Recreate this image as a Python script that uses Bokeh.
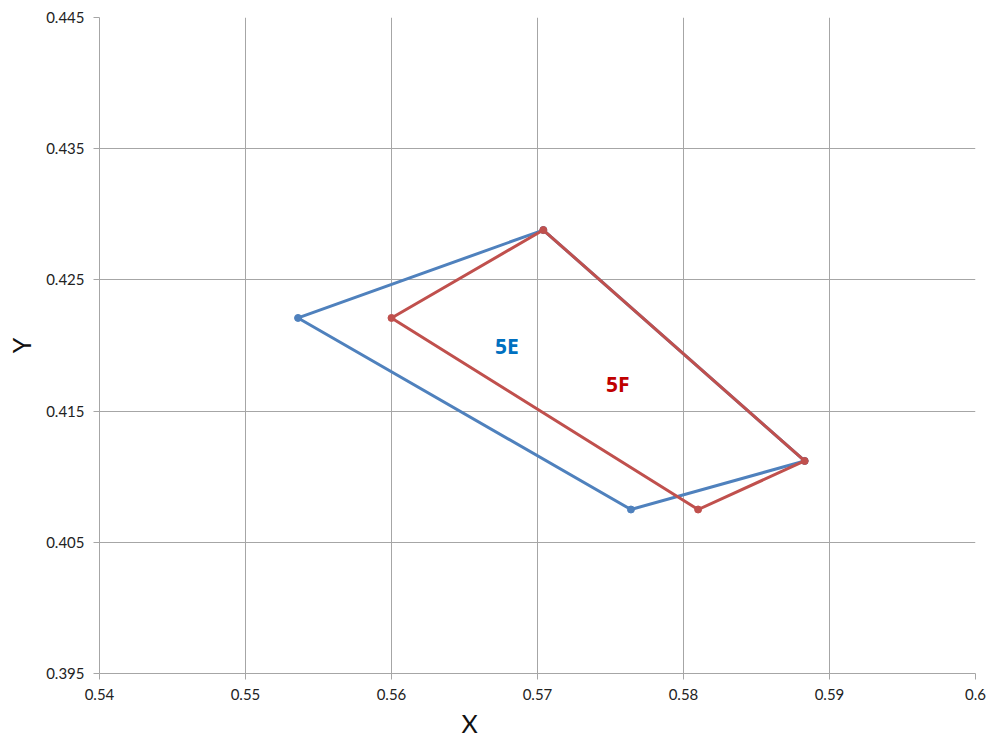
from bokeh.plotting import figure
from bokeh.models import FixedTicker, Range1d, ColumnDataSource, Title
from bokeh.embed import file_html
from bokeh.resources import INLINE
from bokeh.core.properties import value

# Data
x_5e = [0.5536, 0.5704, 0.5883, 0.5764, 0.5536]
y_5e = [0.4221, 0.4288, 0.4112, 0.4075, 0.4221]
x_5f = [0.5600, 0.5704, 0.5883, 0.5810, 0.5600]
y_5f = [0.4221, 0.4288, 0.4112, 0.4075, 0.4221]
label_names = ["5E", "5F"]
label_x = [0.5679, 0.5755]
label_y = [0.4200, 0.4171]
x_ticks = [0.54, 0.55, 0.56, 0.57, 0.58, 0.59, 0.60]
y_ticks = [0.395, 0.405, 0.415, 0.425, 0.435, 0.445]
x_tick_labels = {0.54: "0.54", 0.55: "0.55", 0.56: "0.56", 0.57: "0.57", 0.58: "0.58", 0.59: "0.59", 0.60: "0.6"}
x_title = "X"
y_title = "Y"

FONT = "Lato"
GRID = "#a6a6a6"

p = figure(width=991, height=742, output_backend="svg", toolbar_location=None,
           x_range=Range1d(0.54, 0.60), y_range=Range1d(0.395, 0.445),
           min_border_left=99, min_border_right=16, min_border_top=17, min_border_bottom=69)
p.outline_line_color = None
p.background_fill_color = "white"

p.xaxis.ticker = FixedTicker(ticks=x_ticks)
p.yaxis.ticker = FixedTicker(ticks=y_ticks)
p.xaxis.major_label_overrides = x_tick_labels
p.yaxis.major_label_overrides = {t: f"{t:.3f}" for t in y_ticks}

for ax in (p.xaxis, p.yaxis):
    ax.axis_line_color = GRID
    ax.major_tick_line_color = GRID
    ax.minor_tick_line_color = None
    ax.major_tick_out = 6
    ax.major_tick_in = 0
    ax.major_label_text_font = FONT
    ax.major_label_text_font_size = "15px"
    ax.major_label_text_color = "#222222"
    ax.major_label_standoff = 9

p.yaxis.axis_label = y_title
p.yaxis.axis_label_text_font = FONT
p.yaxis.axis_label_text_font_style = "normal"
p.yaxis.axis_label_text_font_size = "25px"
p.yaxis.axis_label_text_color = "#111111"
p.yaxis.axis_label_standoff = 7

# X title placed left of centre, as in the reference
p.add_layout(Title(text=x_title, align="left", offset=362, text_font=FONT,
                   text_font_style="normal", text_font_size="25px",
                   text_color="#111111", standoff=6), "below")

p.grid.grid_line_color = GRID
p.grid.grid_line_width = 1

blue = "#4F81BD"
red = "#C0504D"
p.line(x_5e, y_5e, line_color=blue, line_width=3)
p.scatter(x_5e[:-1], y_5e[:-1], size=7, fill_color=blue, line_color=blue)
p.line(x_5f, y_5f, line_color=red, line_width=3)
p.scatter(x_5f[:-1], y_5f[:-1], size=7, fill_color=red, line_color=red)

src = ColumnDataSource(dict(x=label_x, y=label_y, t=label_names, c=["#0070C0", "#C00000"]))
p.text(x="x", y="y", text="t", text_color="c", source=src, text_font=value("Open Sans"),
       text_font_style="bold", text_font_size="21px", text_align="center", text_baseline="middle")

open("out.html", "w").write(file_html(p, INLINE))
